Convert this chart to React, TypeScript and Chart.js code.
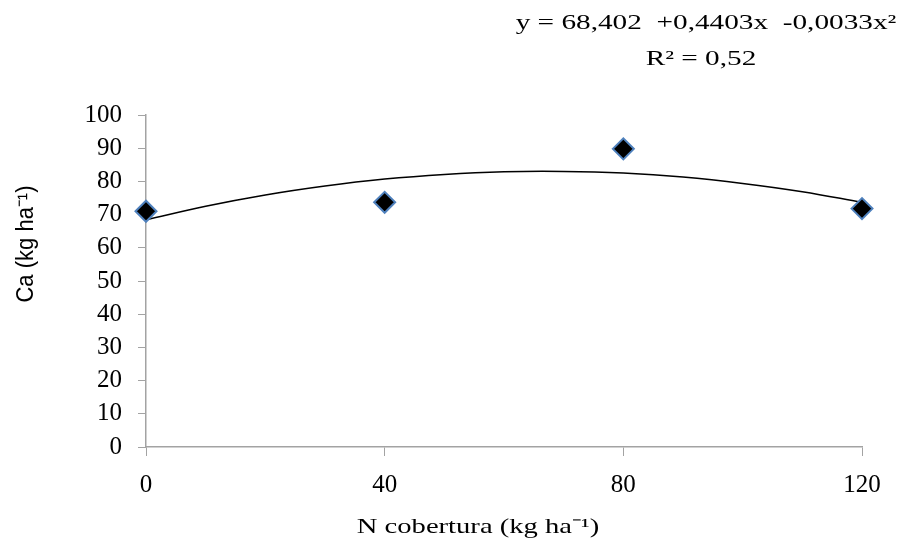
import { useEffect, useRef } from "react";
import { Chart, registerables } from "chart.js";

Chart.register(...registerables);

// Observed data
const nDoses = [0, 40, 80, 120];
const caValues = [71, 73.7, 89.8, 71.8];

// Trend curve
const trendX = [0, 10, 20, 30, 40, 50, 60, 70, 80, 90, 100, 110, 120];
const trendY = [68.4, 72.5, 75.9, 78.6, 80.7, 82.1, 82.9, 83.0, 82.5, 81.3, 79.4, 76.9, 73.7];

const xTickValues = [0, 40, 80, 120];
const yMin = 0;
const yMax = 100;
const yStep = 10;

const equationLine1 = "y = 68,402  +0,4403x  -0,0033x²";
const equationLine2 = "R² = 0,52";
const xTitle = "N cobertura (kg ha⁻¹)";
const yTitle = "Ca (kg ha⁻¹)";

const textPlugin = {
  id: "customTexts",
  afterDraw(chart: any) {
    const ctx = chart.ctx as CanvasRenderingContext2D;
    const draw = (
      text: string,
      cx: number,
      cy: number,
      font: string,
      sx: number,
      sy: number,
      rot = 0
    ) => {
      ctx.save();
      ctx.translate(cx, cy);
      if (rot) ctx.rotate(rot);
      ctx.scale(sx, sy);
      ctx.font = font;
      ctx.fillStyle = "#000";
      ctx.textAlign = "center";
      ctx.textBaseline = "middle";
      ctx.fillText(text, 0, 0);
      ctx.restore();
    };
    const serif = '22px "Liberation Serif", "Times New Roman", serif';
    draw(equationLine1, 706, 23, serif, 1.33, 1);
    draw(equationLine2, 701, 59, serif, 1.33, 1);
    draw(xTitle, 478, 527, serif, 1.3, 1);
    draw(yTitle, 27, 244, '22px "Liberation Sans", Arial, sans-serif', 1, 1.05, -Math.PI / 2);
  },
};

export default function App() {
  const canvasRef = useRef<HTMLCanvasElement | null>(null);

  useEffect(() => {
    if (!canvasRef.current) return;
    const tickFont = { family: '"Liberation Serif", "Times New Roman", serif', size: 25 };
    const axisGrey = "#A3A3A3";
    const chart = new Chart(canvasRef.current, {
      type: "scatter",
      data: {
        datasets: [
          {
            label: "Ca",
            data: nDoses.map((x, i) => ({ x, y: caValues[i] })),
            pointStyle: "rectRot",
            pointRadius: 10.5,
            pointHoverRadius: 10.5,
            backgroundColor: "#000000",
            borderColor: "#4F81BD",
            borderWidth: 2,
            showLine: false,
            clip: false as any,
          },
          {
            label: "Tendência",
            data: trendX.map((x, i) => ({ x, y: trendY[i] })),
            showLine: true,
            pointRadius: 0,
            borderColor: "#000000",
            borderWidth: 1.5,
            tension: 0.4,
            fill: false,
          },
        ],
      },
      options: {
        animation: false,
        responsive: false,
        layout: { padding: { top: 115, right: 42, left: 0, bottom: 0 } },
        plugins: {
          legend: { display: false },
          tooltip: { enabled: false },
        },
        scales: {
          x: {
            type: "linear",
            min: 0,
            max: 120,
            afterBuildTicks: (scale: any) => {
              scale.ticks = xTickValues.map((v) => ({ value: v }));
            },
            afterFit: (scale: any) => {
              scale.height = 97;
            },
            ticks: {
              font: tickFont,
              color: "#000",
              padding: 14,
              maxRotation: 0,
            },
            grid: {
              display: true,
              drawOnChartArea: false,
              drawTicks: true,
              tickLength: 9,
              color: axisGrey,
            },
            border: { display: true, color: axisGrey, width: 1.5 },
          },
          y: {
            type: "linear",
            min: yMin,
            max: yMax,
            ticks: {
              stepSize: yStep,
              font: tickFont,
              color: "#000",
              padding: 16,
            },
            afterFit: (scale: any) => {
              scale.width = 146;
            },
            grid: {
              display: true,
              drawOnChartArea: false,
              drawTicks: true,
              tickLength: 8,
              color: axisGrey,
            },
            border: { display: true, color: axisGrey, width: 1.5 },
          },
        },
      },
      plugins: [textPlugin],
    } as any);
    return () => chart.destroy();
  }, []);

  return (
    <div style={{ position: "absolute", left: 0, top: 0, width: 904, height: 544, background: "#fff" }}>
      <canvas ref={canvasRef} width={904} height={544} style={{ display: "block" }} />
    </div>
  );
}
